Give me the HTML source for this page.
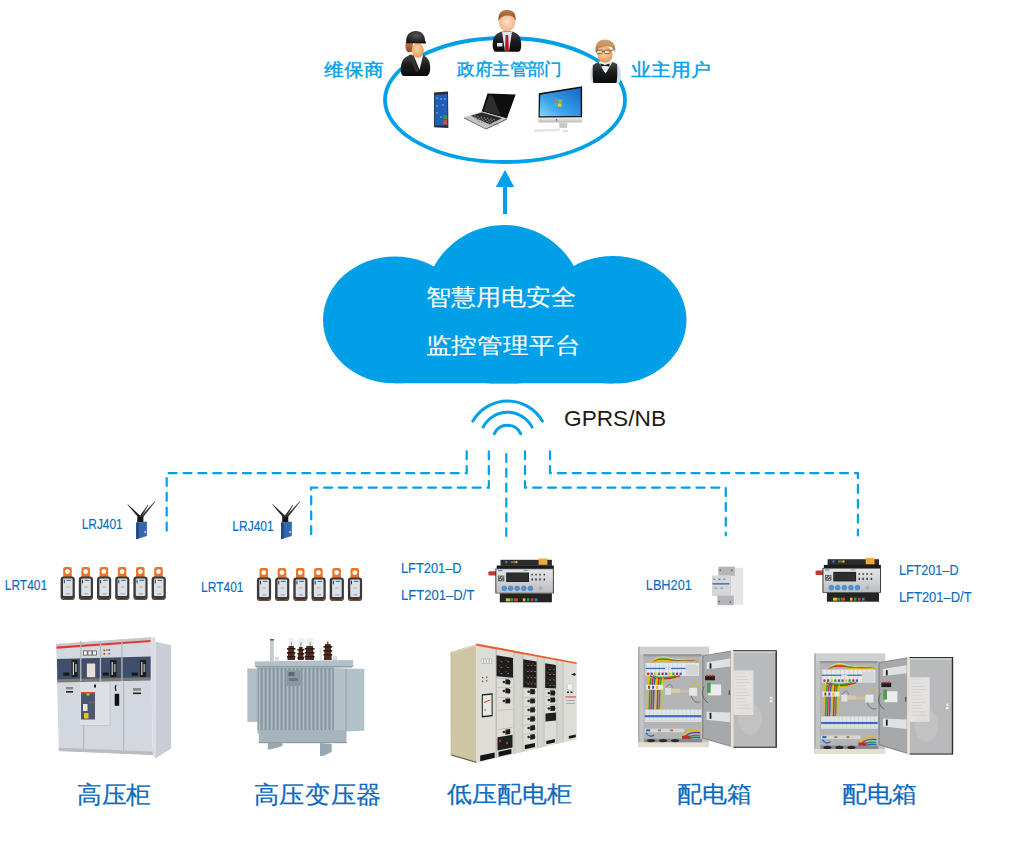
<!DOCTYPE html>
<html><head><meta charset="utf-8">
<style>
html,body{margin:0;padding:0;background:#fff;}
body{width:1024px;height:854px;overflow:hidden;}
svg{display:block;}
text{font-family:"Liberation Sans",sans-serif;}
</style></head><body>
<svg width="1024" height="854" viewBox="0 0 1024 854">
<rect width="1024" height="854" fill="#fff"/>
<ellipse cx="505" cy="100" rx="120" ry="62" fill="none" stroke="#00a0e9" stroke-width="3.8"/>
<rect x="503" y="185" width="4" height="29" fill="#00a0e9"/>
<polygon points="505,170 495.8,187 514.2,187" fill="#00a0e9"/>
<defs><clipPath id="cc"><rect x="0" y="0" width="1024" height="383.5"/></clipPath></defs>
<g fill="#00a0e9" clip-path="url(#cc)">
<ellipse cx="395" cy="320" rx="72" ry="63.5"/>
<ellipse cx="613" cy="320" rx="73.5" ry="64"/>
<circle cx="504" cy="305" r="80"/>
<rect x="395" y="290" width="218" height="93.5"/>
</g>
<text transform="translate(425.59,305.4) scale(1.0074,0.9240)" font-size="25" fill="#fff" stroke="#fff" stroke-width="0.15">智慧用电安全</text>
<text transform="translate(425.59,352.53) scale(1.0143,0.8680)" font-size="25" fill="#fff" stroke="#fff" stroke-width="0.15">监控管理平台</text>
<g fill="none" stroke="#00a0e9" stroke-width="3" stroke-linecap="round">
<path d="M472.9,421.1 A40,40 0 0 1 542.3,421.1"/>
<path d="M483.2,427 A27.5,27.5 0 0 1 532,427"/>
<path d="M494.4,433.6 A14.5,14.5 0 0 1 520.6,433.6"/>
</g>
<text x="564" y="425.8" font-size="22" fill="#231815" textLength="102" lengthAdjust="spacingAndGlyphs">GPRS/NB</text>
<g fill="none" stroke="#00a0e9" stroke-width="2.2" stroke-dasharray="8 6.85" stroke-linecap="round">
<path d="M466.7,451.3 V473.1 H166.7 V530.6"/>
<path d="M488.8,451.3 V487.7 H311.2 V534.5"/>
<path d="M506.3,447.5 V535.9" stroke-dashoffset="8.35"/>
<path d="M525,451.3 V487.7 H725.8 V535.5"/>
<path d="M550,451.3 V473.1 H857.9 V535.5"/>
</g>
<defs>
<radialGradient id="skin" cx="0.45" cy="0.4" r="0.7"><stop offset="0" stop-color="#fbd3a4"/><stop offset="0.7" stop-color="#eea664"/><stop offset="1" stop-color="#c97a3a"/></radialGradient>
<radialGradient id="skin2" cx="0.5" cy="0.45" r="0.7"><stop offset="0" stop-color="#fde0c8"/><stop offset="0.7" stop-color="#f3b98e"/><stop offset="1" stop-color="#d9895a"/></radialGradient>
<linearGradient id="suit" x1="0" y1="0" x2="0" y2="1"><stop offset="0" stop-color="#4a4a4a"/><stop offset="0.5" stop-color="#1c1c1c"/><stop offset="1" stop-color="#0a0a0a"/></linearGradient>
<radialGradient id="helmet" cx="0.5" cy="0.35" r="0.7"><stop offset="0" stop-color="#555"/><stop offset="1" stop-color="#111"/></radialGradient>
<linearGradient id="hair1" x1="0" y1="0" x2="0" y2="1"><stop offset="0" stop-color="#c07a45"/><stop offset="1" stop-color="#8a4a22"/></linearGradient>
<linearGradient id="hair3" x1="0" y1="0" x2="0" y2="1"><stop offset="0" stop-color="#d7a677"/><stop offset="1" stop-color="#b07a48"/></linearGradient>
<linearGradient id="scr" x1="0" y1="1" x2="1" y2="0"><stop offset="0" stop-color="#8fd4f8"/><stop offset="0.35" stop-color="#3aa6ec"/><stop offset="1" stop-color="#1565c8"/></linearGradient>
<linearGradient id="silver" x1="0" y1="0" x2="0" y2="1"><stop offset="0" stop-color="#f2f2f2"/><stop offset="1" stop-color="#b9b9b9"/></linearGradient>
</defs>
<g>
<path d="M403,76 C400,74 400.5,66 402,62 C403.5,58 407,56 410,55 L416,54 L423,55 C427,57 429.5,60 430,65 C430.5,70 430,74 427,76 Z" fill="url(#suit)"/>
<path d="M409.5,54.5 L413,53.5 L419.5,70 L423,55.5 L420.5,53.5 L416,56 Z" fill="#f2f4f6"/>
<path d="M409,55 L411.5,54.5 L418.5,71 L416,72 Z" fill="#333"/>
<path d="M405.8,42 C405,47 405.5,51 408.5,52.5 L412.5,51.5 L413,42 Z" fill="url(#hair1)"/>
<ellipse cx="417.8" cy="50.3" rx="6" ry="7.4" fill="url(#skin)"/>
<path d="M406.3,42.2 C405.5,35 410,31 415.8,31 C421.5,31 425.2,35 425,40.8 L426.2,42.6 L425.8,43.4 L406.3,43.2 Z" fill="url(#helmet)"/>
</g>
<g>
<path d="M495,51.8 C492,50 492.3,43 493.5,39 C495,34.5 498,32.5 502,31.5 L507,30.5 L512,31.5 C516,32.5 519.5,34.5 520.5,39 C521.5,43 521.8,50 519,51.8 Z" fill="url(#suit)"/>
<path d="M502,31.5 L512,31.5 L509,51.5 L505,51.5 Z" fill="#d6e8f5"/>
<path d="M505.6,35 L508.2,35 L509,51.5 L505,51.5 Z" fill="#c0141b"/>
<rect x="497" y="43" width="5.5" height="3.5" fill="#dfe6f0"/>
<ellipse cx="507" cy="22.5" rx="8.2" ry="8.8" fill="url(#skin2)"/>
<path d="M498.5,21 C497.5,13 502,10 507,10 C513,10 516.5,13 515.5,21 C514,16 511,15 506,15.5 C502,16 500,18 498.5,21 Z" fill="url(#hair1)"/>
</g>
<g>
<path d="M592,83 C589.5,80 590,72 591.5,68 C593,64 596,62.5 599,61.5 L605,60.5 L612,61.5 C616,62.5 619,64.5 620,68 C621.5,72 621.5,80 619,83 Z" fill="#cde0f3"/>
<path d="M593.5,83 C592.5,78 592.5,70 593,65 L598.5,62 L605.5,73.5 L612.5,62 L617,64 C617.5,70 617.5,78 616.5,83 Z" fill="url(#suit)"/>
<path d="M599,62.5 L605,60.8 L611.5,62.5 L605.5,73.5 Z" fill="#e4eef8"/>
<path d="M600.5,63.5 L605,65 L609.5,63.5 L609.5,66.5 L605,65.8 L600.5,66.5 Z" fill="#151515"/>
<ellipse cx="605" cy="54.5" rx="7.6" ry="8.2" fill="url(#skin)"/>
<path d="M595.5,52 C594.5,44 598.5,39.5 605,39.5 C611.5,39.5 616,43.5 615.3,51.5 L613.5,50 C612.5,47 610,46 606,46.5 C601,47 598.5,48 597,52 Z" fill="url(#hair3)"/>
<g fill="#fff5e8" fill-opacity="0.45" stroke="#5e4a36" stroke-width="0.8"><rect x="596.8" y="50.2" width="5.6" height="3.4" rx="1"/><rect x="604.3" y="50.2" width="5.6" height="3.4" rx="1"/></g>
<path d="M602.4,51.3 H604.3 M609.9,50.8 L613.5,49.8" stroke="#5e4a36" stroke-width="0.8" fill="none"/>
</g>
<polygon points="434,92.6 448,91.4 448.4,128 434,127.2" fill="#2b2b2b"/>
<polygon points="434.6,94.8 447.4,94 447.6,125.6 434.8,125.4" fill="#1f5fb5"/>
<rect x="443.3" y="115" width="3.8" height="4.2" fill="#2a9a50"/><rect x="443.3" y="120.2" width="3.8" height="4.2" fill="#d84848"/>
<g fill="#6aa8e8" opacity="0.6"><rect x="436" y="97" width="2" height="2"/><rect x="440" y="98" width="2" height="2"/><rect x="444" y="98" width="2" height="2"/><rect x="436" y="105" width="2" height="2"/><rect x="442" y="104" width="2" height="2"/><rect x="436" y="112" width="2" height="2"/><rect x="440" y="116" width="2" height="2"/></g>
<polygon points="487.5,93.6 515.7,94.4 506.9,118.5 481.7,111.4" fill="#0e0e0e"/>
<polygon points="489,95.5 492.5,95.6 500.5,115.5 483.5,111" fill="#2e2e2e"/>
<polygon points="464.1,117.3 481.7,111.4 506.9,118.5 485.8,128.4" fill="#c4c4c4"/>
<polygon points="471,115.8 482,112.5 502,118.3 489.5,124.5" fill="#2a2a2a"/>
<g fill="#8a8a8a"><rect x="474" y="115.5" width="1.6" height="1" /><rect x="475.3" y="117.3" width="1.6" height="1" /><rect x="476.6" y="119.1" width="1.6" height="1" /><rect x="477.9" y="120.9" width="1.6" height="1" /><rect x="477.2" y="116.1" width="1.6" height="1" /><rect x="478.5" y="117.9" width="1.6" height="1" /><rect x="479.8" y="119.7" width="1.6" height="1" /><rect x="481.1" y="121.5" width="1.6" height="1" /><rect x="480.4" y="116.7" width="1.6" height="1" /><rect x="481.7" y="118.5" width="1.6" height="1" /><rect x="483" y="120.3" width="1.6" height="1" /><rect x="484.3" y="122.1" width="1.6" height="1" /><rect x="483.6" y="117.3" width="1.6" height="1" /><rect x="484.9" y="119.1" width="1.6" height="1" /><rect x="486.2" y="120.9" width="1.6" height="1" /><rect x="487.5" y="122.7" width="1.6" height="1" /><rect x="486.8" y="117.9" width="1.6" height="1" /><rect x="488.1" y="119.7" width="1.6" height="1" /><rect x="489.4" y="121.5" width="1.6" height="1" /><rect x="490.7" y="123.3" width="1.6" height="1" /><rect x="490" y="118.5" width="1.6" height="1" /><rect x="491.3" y="120.3" width="1.6" height="1" /><rect x="492.6" y="122.1" width="1.6" height="1" /><rect x="493.9" y="123.9" width="1.6" height="1" /><rect x="493.2" y="119.1" width="1.6" height="1" /><rect x="494.5" y="120.9" width="1.6" height="1" /><rect x="495.8" y="122.7" width="1.6" height="1" /><rect x="497.1" y="124.5" width="1.6" height="1" /></g>
<polygon points="464.1,117.3 485.8,128.4 486,129.6 464.2,118.4" fill="#6a6a6a"/>
<polygon points="485.8,128.4 506.9,118.5 507,119.5 486,129.6" fill="#555"/>
<polygon points="538.8,93.2 582.1,86.2 582.1,117.5 538.5,117.8" fill="#111"/>
<polygon points="540.3,94.7 580.7,87.9 580.7,116 539.7,116.3" fill="url(#scr)"/>
<g><rect x="554.5" y="99" width="3.5" height="3.2" fill="#f06a30"/><rect x="558.5" y="99.5" width="3.5" height="3.2" fill="#7cc53a"/><rect x="554" y="103" width="3.5" height="3.2" fill="#3ab0f0"/><rect x="558" y="103.5" width="3.5" height="3.2" fill="#f5c82a"/></g>
<polygon points="538.2,117.8 582.1,117.5 582.1,122.5 538.2,122.5" fill="url(#silver)"/>
<circle cx="556.5" cy="120" r="0.8" fill="#444"/>
<polygon points="559,122.5 567.5,122.5 567,128 559.5,128" fill="#c9c9c9"/>
<polygon points="534.5,129.5 559.5,128.5 560,131 534.2,132" fill="#e4e4e4"/>
<ellipse cx="565.5" cy="131" rx="3" ry="1.2" fill="#e0e0e0"/>
<text transform="translate(324,75.67) scale(0.9915,0.9100)" font-size="20" fill="#00a0e9" stroke="#00a0e9" stroke-width="0.45">维保商</text>
<text transform="translate(457.3,74.5) scale(0.8763,0.8350)" font-size="20" fill="#00a0e9" stroke="#00a0e9" stroke-width="0.45">政府主管部门</text>
<text transform="translate(631.4,75.8) scale(0.9911,0.9000)" font-size="20" fill="#00a0e9" stroke="#00a0e9" stroke-width="0.45">业主用户</text>
<g font-size="14.5" fill="#0a6cc0" stroke="#0a6cc0" stroke-width="0.12">
<text x="81.7" y="528.9" textLength="41" lengthAdjust="spacingAndGlyphs">LRJ401</text>
<text x="232.3" y="531.4" textLength="41.4" lengthAdjust="spacingAndGlyphs">LRJ401</text>
<text x="4.8" y="590.2" textLength="42.3" lengthAdjust="spacingAndGlyphs">LRT401</text>
<text x="201" y="591.7" textLength="42.5" lengthAdjust="spacingAndGlyphs">LRT401</text>
<text x="401" y="572.9" textLength="60.5" lengthAdjust="spacingAndGlyphs">LFT201–D</text>
<text x="401" y="600.3" textLength="73.4" lengthAdjust="spacingAndGlyphs">LFT201–D/T</text>
<text x="645.8" y="590.2" textLength="46" lengthAdjust="spacingAndGlyphs">LBH201</text>
<text x="898.9" y="575.2" textLength="59.6" lengthAdjust="spacingAndGlyphs">LFT201–D</text>
<text x="898.9" y="602.3" textLength="72.7" lengthAdjust="spacingAndGlyphs">LFT201–D/T</text>
</g>
<g transform="translate(136.2,521.7)">
<polygon points="-8.8,-17.1 -8.4,-17.5 4.8,-5.3 2.6,-3.7" fill="#1e1e1e"/>
<polygon points="11.7,-16.9 12.1,-16.5 5.2,-4.6 3.6,-5.9" fill="#2a2a2a"/>
<polygon points="18.6,-20.5 19.2,-20.1 6.3,-3.8 4.6,-5.1" fill="#333"/>
<rect x="1.1" y="-5.1" width="6.1" height="5.6" fill="#141414"/>
<polygon points="0,0.8 10.7,-0.1 10.7,14.3 0,17.5" fill="#3466ad"/>
<polygon points="0,0.8 2.5,0.6 2.5,16.8 0,17.5" fill="#22467e"/>
<circle cx="9" cy="10.2" r="0.9" fill="#e8eef5"/>
</g>
<g transform="translate(281.1,521.7)">
<polygon points="-8.8,-17.1 -8.4,-17.5 4.8,-5.3 2.6,-3.7" fill="#1e1e1e"/>
<polygon points="11.7,-16.9 12.1,-16.5 5.2,-4.6 3.6,-5.9" fill="#2a2a2a"/>
<polygon points="18.6,-20.5 19.2,-20.1 6.3,-3.8 4.6,-5.1" fill="#333"/>
<rect x="1.1" y="-5.1" width="6.1" height="5.6" fill="#141414"/>
<polygon points="0,0.8 10.7,-0.1 10.7,14.3 0,17.5" fill="#3466ad"/>
<polygon points="0,0.8 2.5,0.6 2.5,16.8 0,17.5" fill="#22467e"/>
<circle cx="9" cy="10.2" r="0.9" fill="#e8eef5"/>
</g>
<g transform="translate(60.6,567)">
<rect x="2.6" y="0" width="8.6" height="12" rx="2" fill="#ec7426"/>
<circle cx="6.9" cy="4.6" r="2.4" fill="#fff"/>
<rect x="0" y="9.4" width="14.2" height="23.6" rx="3" fill="#3a3a3a"/>
<path d="M0.6,30.5 Q7.1,34 13.6,30.5 L13.6,31.5 Q7.1,34.6 0.6,31.5 Z" fill="#a85a2a" opacity="0.8"/>
<rect x="2.4" y="11.6" width="9.6" height="17.4" rx="1" fill="#dde1e6"/>
<rect x="6" y="12.8" width="4.5" height="1.2" fill="#4a6fb8"/>
<rect x="3.2" y="12.8" width="0.9" height="3.5" fill="#222"/>
<rect x="5.5" y="19.5" width="3.5" height="0.9" fill="#98a8c8"/>
<rect x="5.5" y="26.5" width="4" height="0.8" fill="#6a88c0"/>
</g>
<g transform="translate(78.8,567)">
<rect x="2.6" y="0" width="8.6" height="12" rx="2" fill="#ec7426"/>
<circle cx="6.9" cy="4.6" r="2.4" fill="#fff"/>
<rect x="0" y="9.4" width="14.2" height="23.6" rx="3" fill="#3a3a3a"/>
<path d="M0.6,30.5 Q7.1,34 13.6,30.5 L13.6,31.5 Q7.1,34.6 0.6,31.5 Z" fill="#a85a2a" opacity="0.8"/>
<rect x="2.4" y="11.6" width="9.6" height="17.4" rx="1" fill="#dde1e6"/>
<rect x="6" y="12.8" width="4.5" height="1.2" fill="#4a6fb8"/>
<rect x="3.2" y="12.8" width="0.9" height="3.5" fill="#222"/>
<rect x="5.5" y="19.5" width="3.5" height="0.9" fill="#98a8c8"/>
<rect x="5.5" y="26.5" width="4" height="0.8" fill="#6a88c0"/>
</g>
<g transform="translate(97,567)">
<rect x="2.6" y="0" width="8.6" height="12" rx="2" fill="#ec7426"/>
<circle cx="6.9" cy="4.6" r="2.4" fill="#fff"/>
<rect x="0" y="9.4" width="14.2" height="23.6" rx="3" fill="#3a3a3a"/>
<path d="M0.6,30.5 Q7.1,34 13.6,30.5 L13.6,31.5 Q7.1,34.6 0.6,31.5 Z" fill="#a85a2a" opacity="0.8"/>
<rect x="2.4" y="11.6" width="9.6" height="17.4" rx="1" fill="#dde1e6"/>
<rect x="6" y="12.8" width="4.5" height="1.2" fill="#4a6fb8"/>
<rect x="3.2" y="12.8" width="0.9" height="3.5" fill="#222"/>
<rect x="5.5" y="19.5" width="3.5" height="0.9" fill="#98a8c8"/>
<rect x="5.5" y="26.5" width="4" height="0.8" fill="#6a88c0"/>
</g>
<g transform="translate(115.2,567)">
<rect x="2.6" y="0" width="8.6" height="12" rx="2" fill="#ec7426"/>
<circle cx="6.9" cy="4.6" r="2.4" fill="#fff"/>
<rect x="0" y="9.4" width="14.2" height="23.6" rx="3" fill="#3a3a3a"/>
<path d="M0.6,30.5 Q7.1,34 13.6,30.5 L13.6,31.5 Q7.1,34.6 0.6,31.5 Z" fill="#a85a2a" opacity="0.8"/>
<rect x="2.4" y="11.6" width="9.6" height="17.4" rx="1" fill="#dde1e6"/>
<rect x="6" y="12.8" width="4.5" height="1.2" fill="#4a6fb8"/>
<rect x="3.2" y="12.8" width="0.9" height="3.5" fill="#222"/>
<rect x="5.5" y="19.5" width="3.5" height="0.9" fill="#98a8c8"/>
<rect x="5.5" y="26.5" width="4" height="0.8" fill="#6a88c0"/>
</g>
<g transform="translate(133.4,567)">
<rect x="2.6" y="0" width="8.6" height="12" rx="2" fill="#ec7426"/>
<circle cx="6.9" cy="4.6" r="2.4" fill="#fff"/>
<rect x="0" y="9.4" width="14.2" height="23.6" rx="3" fill="#3a3a3a"/>
<path d="M0.6,30.5 Q7.1,34 13.6,30.5 L13.6,31.5 Q7.1,34.6 0.6,31.5 Z" fill="#a85a2a" opacity="0.8"/>
<rect x="2.4" y="11.6" width="9.6" height="17.4" rx="1" fill="#dde1e6"/>
<rect x="6" y="12.8" width="4.5" height="1.2" fill="#4a6fb8"/>
<rect x="3.2" y="12.8" width="0.9" height="3.5" fill="#222"/>
<rect x="5.5" y="19.5" width="3.5" height="0.9" fill="#98a8c8"/>
<rect x="5.5" y="26.5" width="4" height="0.8" fill="#6a88c0"/>
</g>
<g transform="translate(151.6,567)">
<rect x="2.6" y="0" width="8.6" height="12" rx="2" fill="#ec7426"/>
<circle cx="6.9" cy="4.6" r="2.4" fill="#fff"/>
<rect x="0" y="9.4" width="14.2" height="23.6" rx="3" fill="#3a3a3a"/>
<path d="M0.6,30.5 Q7.1,34 13.6,30.5 L13.6,31.5 Q7.1,34.6 0.6,31.5 Z" fill="#a85a2a" opacity="0.8"/>
<rect x="2.4" y="11.6" width="9.6" height="17.4" rx="1" fill="#dde1e6"/>
<rect x="6" y="12.8" width="4.5" height="1.2" fill="#4a6fb8"/>
<rect x="3.2" y="12.8" width="0.9" height="3.5" fill="#222"/>
<rect x="5.5" y="19.5" width="3.5" height="0.9" fill="#98a8c8"/>
<rect x="5.5" y="26.5" width="4" height="0.8" fill="#6a88c0"/>
</g>
<g transform="translate(256.9,568)">
<rect x="2.6" y="0" width="8.6" height="12" rx="2" fill="#ec7426"/>
<circle cx="6.9" cy="4.6" r="2.4" fill="#fff"/>
<rect x="0" y="9.4" width="14.2" height="23.6" rx="3" fill="#3a3a3a"/>
<path d="M0.6,30.5 Q7.1,34 13.6,30.5 L13.6,31.5 Q7.1,34.6 0.6,31.5 Z" fill="#a85a2a" opacity="0.8"/>
<rect x="2.4" y="11.6" width="9.6" height="17.4" rx="1" fill="#dde1e6"/>
<rect x="6" y="12.8" width="4.5" height="1.2" fill="#4a6fb8"/>
<rect x="3.2" y="12.8" width="0.9" height="3.5" fill="#222"/>
<rect x="5.5" y="19.5" width="3.5" height="0.9" fill="#98a8c8"/>
<rect x="5.5" y="26.5" width="4" height="0.8" fill="#6a88c0"/>
</g>
<g transform="translate(275.1,568)">
<rect x="2.6" y="0" width="8.6" height="12" rx="2" fill="#ec7426"/>
<circle cx="6.9" cy="4.6" r="2.4" fill="#fff"/>
<rect x="0" y="9.4" width="14.2" height="23.6" rx="3" fill="#3a3a3a"/>
<path d="M0.6,30.5 Q7.1,34 13.6,30.5 L13.6,31.5 Q7.1,34.6 0.6,31.5 Z" fill="#a85a2a" opacity="0.8"/>
<rect x="2.4" y="11.6" width="9.6" height="17.4" rx="1" fill="#dde1e6"/>
<rect x="6" y="12.8" width="4.5" height="1.2" fill="#4a6fb8"/>
<rect x="3.2" y="12.8" width="0.9" height="3.5" fill="#222"/>
<rect x="5.5" y="19.5" width="3.5" height="0.9" fill="#98a8c8"/>
<rect x="5.5" y="26.5" width="4" height="0.8" fill="#6a88c0"/>
</g>
<g transform="translate(293.3,568)">
<rect x="2.6" y="0" width="8.6" height="12" rx="2" fill="#ec7426"/>
<circle cx="6.9" cy="4.6" r="2.4" fill="#fff"/>
<rect x="0" y="9.4" width="14.2" height="23.6" rx="3" fill="#3a3a3a"/>
<path d="M0.6,30.5 Q7.1,34 13.6,30.5 L13.6,31.5 Q7.1,34.6 0.6,31.5 Z" fill="#a85a2a" opacity="0.8"/>
<rect x="2.4" y="11.6" width="9.6" height="17.4" rx="1" fill="#dde1e6"/>
<rect x="6" y="12.8" width="4.5" height="1.2" fill="#4a6fb8"/>
<rect x="3.2" y="12.8" width="0.9" height="3.5" fill="#222"/>
<rect x="5.5" y="19.5" width="3.5" height="0.9" fill="#98a8c8"/>
<rect x="5.5" y="26.5" width="4" height="0.8" fill="#6a88c0"/>
</g>
<g transform="translate(311.5,568)">
<rect x="2.6" y="0" width="8.6" height="12" rx="2" fill="#ec7426"/>
<circle cx="6.9" cy="4.6" r="2.4" fill="#fff"/>
<rect x="0" y="9.4" width="14.2" height="23.6" rx="3" fill="#3a3a3a"/>
<path d="M0.6,30.5 Q7.1,34 13.6,30.5 L13.6,31.5 Q7.1,34.6 0.6,31.5 Z" fill="#a85a2a" opacity="0.8"/>
<rect x="2.4" y="11.6" width="9.6" height="17.4" rx="1" fill="#dde1e6"/>
<rect x="6" y="12.8" width="4.5" height="1.2" fill="#4a6fb8"/>
<rect x="3.2" y="12.8" width="0.9" height="3.5" fill="#222"/>
<rect x="5.5" y="19.5" width="3.5" height="0.9" fill="#98a8c8"/>
<rect x="5.5" y="26.5" width="4" height="0.8" fill="#6a88c0"/>
</g>
<g transform="translate(329.7,568)">
<rect x="2.6" y="0" width="8.6" height="12" rx="2" fill="#ec7426"/>
<circle cx="6.9" cy="4.6" r="2.4" fill="#fff"/>
<rect x="0" y="9.4" width="14.2" height="23.6" rx="3" fill="#3a3a3a"/>
<path d="M0.6,30.5 Q7.1,34 13.6,30.5 L13.6,31.5 Q7.1,34.6 0.6,31.5 Z" fill="#a85a2a" opacity="0.8"/>
<rect x="2.4" y="11.6" width="9.6" height="17.4" rx="1" fill="#dde1e6"/>
<rect x="6" y="12.8" width="4.5" height="1.2" fill="#4a6fb8"/>
<rect x="3.2" y="12.8" width="0.9" height="3.5" fill="#222"/>
<rect x="5.5" y="19.5" width="3.5" height="0.9" fill="#98a8c8"/>
<rect x="5.5" y="26.5" width="4" height="0.8" fill="#6a88c0"/>
</g>
<g transform="translate(347.9,568)">
<rect x="2.6" y="0" width="8.6" height="12" rx="2" fill="#ec7426"/>
<circle cx="6.9" cy="4.6" r="2.4" fill="#fff"/>
<rect x="0" y="9.4" width="14.2" height="23.6" rx="3" fill="#3a3a3a"/>
<path d="M0.6,30.5 Q7.1,34 13.6,30.5 L13.6,31.5 Q7.1,34.6 0.6,31.5 Z" fill="#a85a2a" opacity="0.8"/>
<rect x="2.4" y="11.6" width="9.6" height="17.4" rx="1" fill="#dde1e6"/>
<rect x="6" y="12.8" width="4.5" height="1.2" fill="#4a6fb8"/>
<rect x="3.2" y="12.8" width="0.9" height="3.5" fill="#222"/>
<rect x="5.5" y="19.5" width="3.5" height="0.9" fill="#98a8c8"/>
<rect x="5.5" y="26.5" width="4" height="0.8" fill="#6a88c0"/>
</g>
<g transform="translate(495.4,559.8)">
<path d="M-7,12.5 Q-7,11.4 -5.5,11.4 L0.6,11.4 L0.6,15.8 L-5.5,15.8 Q-7,15.8 -7,14.5 Z" fill="#c23a30"/>
<rect x="5.1" y="0" width="51.4" height="6" fill="#2c2c2c"/>
<rect x="1.3" y="5.7" width="57.1" height="3.3" fill="#1c1c1c"/>
<rect x="43.2" y="-1.3" width="8.8" height="6.3" fill="#f0a838"/>
<rect x="10" y="1.2" width="2" height="2.2" fill="#3a7fd0"/><rect x="15.5" y="1.2" width="2" height="2.2" fill="#e04030"/><rect x="17.8" y="1.2" width="2" height="2.2" fill="#3aa040"/><rect x="20" y="1.2" width="2" height="2.2" fill="#f0c020"/>
<defs><linearGradient id="lftp" x1="0" y1="0" x2="0" y2="1"><stop offset="0" stop-color="#e4e6e8"/><stop offset="1" stop-color="#bcbfc2"/></linearGradient></defs>
<rect x="0" y="8.8" width="58.4" height="24.8" fill="#2a2a2a"/>
<rect x="0.9" y="9.4" width="56.6" height="23.6" fill="url(#lftp)"/>
<rect x="10.8" y="12.7" width="22.8" height="9.5" fill="#1c1c1c"/>
<rect x="11.5" y="13.4" width="21.4" height="8.1" fill="#2e2e2e"/>
<rect x="2.6" y="15.8" width="6.3" height="5.7" fill="#5a5a5a"/>
<g fill="#ccc"><rect x="3.4" y="16.6" width="1.2" height="1.2"/><rect x="5.6" y="17.4" width="1.2" height="1.2"/><rect x="7" y="16.4" width="1" height="1.5"/><rect x="4" y="19.2" width="1.5" height="1"/><rect x="6.4" y="19.8" width="1" height="1"/></g>
<rect x="2.5" y="10.3" width="4.5" height="1" fill="#4a7ac0"/><rect x="28" y="10.3" width="5" height="0.8" fill="#6a8ac8"/>
<g fill="#3a3a3a"><rect x="36.05" y="14" width="1.5" height="1.6"/><rect x="36.05" y="18.6" width="1.5" height="2.2"/><rect x="39.85" y="14" width="1.5" height="1.6"/><rect x="39.85" y="18.6" width="1.5" height="2.2"/><rect x="43.85" y="14" width="1.5" height="1.6"/><rect x="43.85" y="18.6" width="1.5" height="2.2"/><rect x="48.15" y="14" width="1.5" height="1.6"/><rect x="48.15" y="18.6" width="1.5" height="2.2"/></g>
<g fill="#4b97dd" stroke="#2d67a8" stroke-width="0.5"><circle cx="8.9" cy="28.5" r="2.4"/><circle cx="15.2" cy="28.5" r="2.4"/><circle cx="21.8" cy="28.5" r="2.4"/><circle cx="28.4" cy="28.5" r="2.4"/><circle cx="35" cy="28.5" r="2.4"/></g>
<path d="M45.1,26.8 l1.5,1.7 l-1.5,1.7 l-1.5,-1.7 Z" fill="none" stroke="#777" stroke-width="0.6"/>
<rect x="4.4" y="33.6" width="52.1" height="8.9" fill="#242424"/>
<g><rect x="10.5" y="38.5" width="4" height="3" fill="#e8c020"/><rect x="14.8" y="38.5" width="3" height="3" fill="#2aa040"/><rect x="18.5" y="38.5" width="4" height="3" fill="#d84030"/><rect x="27.5" y="38.5" width="2.5" height="3" fill="#e8c020"/><rect x="31.5" y="38.5" width="2.5" height="3" fill="#2aa040"/><rect x="35.5" y="38.5" width="2.5" height="3" fill="#d84030"/><rect x="39.5" y="38.5" width="2.5" height="3" fill="#3a7fd0"/></g>
</g>
<g transform="translate(822.5,559.2)">
<path d="M-7,12.5 Q-7,11.4 -5.5,11.4 L0.6,11.4 L0.6,15.8 L-5.5,15.8 Q-7,15.8 -7,14.5 Z" fill="#c23a30"/>
<rect x="5.1" y="0" width="51.4" height="6" fill="#2c2c2c"/>
<rect x="1.3" y="5.7" width="57.1" height="3.3" fill="#1c1c1c"/>
<rect x="43.2" y="-1.3" width="8.8" height="6.3" fill="#f0a838"/>
<rect x="10" y="1.2" width="2" height="2.2" fill="#3a7fd0"/><rect x="15.5" y="1.2" width="2" height="2.2" fill="#e04030"/><rect x="17.8" y="1.2" width="2" height="2.2" fill="#3aa040"/><rect x="20" y="1.2" width="2" height="2.2" fill="#f0c020"/>
<defs><linearGradient id="lftp" x1="0" y1="0" x2="0" y2="1"><stop offset="0" stop-color="#e4e6e8"/><stop offset="1" stop-color="#bcbfc2"/></linearGradient></defs>
<rect x="0" y="8.8" width="58.4" height="24.8" fill="#2a2a2a"/>
<rect x="0.9" y="9.4" width="56.6" height="23.6" fill="url(#lftp)"/>
<rect x="10.8" y="12.7" width="22.8" height="9.5" fill="#1c1c1c"/>
<rect x="11.5" y="13.4" width="21.4" height="8.1" fill="#2e2e2e"/>
<rect x="2.6" y="15.8" width="6.3" height="5.7" fill="#5a5a5a"/>
<g fill="#ccc"><rect x="3.4" y="16.6" width="1.2" height="1.2"/><rect x="5.6" y="17.4" width="1.2" height="1.2"/><rect x="7" y="16.4" width="1" height="1.5"/><rect x="4" y="19.2" width="1.5" height="1"/><rect x="6.4" y="19.8" width="1" height="1"/></g>
<rect x="2.5" y="10.3" width="4.5" height="1" fill="#4a7ac0"/><rect x="28" y="10.3" width="5" height="0.8" fill="#6a8ac8"/>
<g fill="#3a3a3a"><rect x="36.05" y="14" width="1.5" height="1.6"/><rect x="36.05" y="18.6" width="1.5" height="2.2"/><rect x="39.85" y="14" width="1.5" height="1.6"/><rect x="39.85" y="18.6" width="1.5" height="2.2"/><rect x="43.85" y="14" width="1.5" height="1.6"/><rect x="43.85" y="18.6" width="1.5" height="2.2"/><rect x="48.15" y="14" width="1.5" height="1.6"/><rect x="48.15" y="18.6" width="1.5" height="2.2"/></g>
<g fill="#4b97dd" stroke="#2d67a8" stroke-width="0.5"><circle cx="8.9" cy="28.5" r="2.4"/><circle cx="15.2" cy="28.5" r="2.4"/><circle cx="21.8" cy="28.5" r="2.4"/><circle cx="28.4" cy="28.5" r="2.4"/><circle cx="35" cy="28.5" r="2.4"/></g>
<path d="M45.1,26.8 l1.5,1.7 l-1.5,1.7 l-1.5,-1.7 Z" fill="none" stroke="#777" stroke-width="0.6"/>
<rect x="4.4" y="33.6" width="52.1" height="8.9" fill="#242424"/>
<g><rect x="10.5" y="38.5" width="4" height="3" fill="#e8c020"/><rect x="14.8" y="38.5" width="3" height="3" fill="#2aa040"/><rect x="18.5" y="38.5" width="4" height="3" fill="#d84030"/><rect x="27.5" y="38.5" width="2.5" height="3" fill="#e8c020"/><rect x="31.5" y="38.5" width="2.5" height="3" fill="#2aa040"/><rect x="35.5" y="38.5" width="2.5" height="3" fill="#d84030"/><rect x="39.5" y="38.5" width="2.5" height="3" fill="#3a7fd0"/></g>
</g>
<g transform="translate(718.3,566.7)">
<rect x="11" y="1" width="14" height="37" fill="#e4e6e8"/>
<rect x="0" y="0" width="16.6" height="9" fill="#b3b5b8"/>
<rect x="-6.3" y="8.8" width="17.6" height="20.5" fill="#d4d6d9"/>
<rect x="-1" y="29" width="16.5" height="9.5" fill="#b3b5b8"/>
<rect x="11.3" y="8.8" width="1.2" height="20.5" fill="#c8cacd"/>
<rect x="-5.8" y="16.5" width="16.8" height="1.3" fill="#2a66b0"/>
<g fill="#6e6a50"><circle cx="2" cy="3.5" r="0.9"/><circle cx="13.5" cy="3.5" r="0.9"/><circle cx="1" cy="35" r="0.9"/><circle cx="12" cy="35.5" r="0.9"/></g>
<g fill="#777"><rect x="-5" y="12" width="2" height="1"/><rect x="0" y="12" width="2" height="1.4"/><rect x="5" y="12" width="2" height="1"/><rect x="-4" y="21" width="3" height="0.8"/><rect x="2" y="21" width="3" height="0.8"/></g>
</g>
<g>
<polygon points="155.4,641.8 171.2,645.2 171.2,748.4 155.4,758.6" fill="#c9cdd5" />
<polygon points="150.8,637.3 155.4,637.6 155.4,758.6 152.8,755" fill="#dadde3" />
<polygon points="56.1,643.9 150.8,637.3 152.8,755 58.8,751" fill="#d3d7de" />
<polygon points="56.1,643.9 150.8,637.3 150.8,640 56.1,646.4" fill="#c6cacf" />
<polygon points="56.5,646.5 150.5,640.1 150.5,642.1 56.5,648.8" fill="#e03a34" />
<polygon points="57,659 150.6,656.6 150.6,678 57.3,680.4" fill="#3f4f69" />
<polygon points="57.3,679.2 150.6,677.2 150.6,680.4 57.3,682.4" fill="#7c7a74" />
<rect x="80.1" y="641" width="1.3" height="40" fill="#b6bac0" />
<rect x="99.8" y="641" width="1.3" height="40" fill="#b6bac0" />
<rect x="121.3" y="641" width="1.3" height="40" fill="#b6bac0" />
<rect x="83.1" y="682" width="1.1" height="70" fill="#b3b7bd" />
<rect x="123.1" y="682" width="1.1" height="70" fill="#b3b7bd" />
<polygon points="58.8,747.8 152.8,751.5 152.8,755 58.8,751" fill="#b9bcc1" />
<rect x="83.3" y="650.9" width="3.9" height="4.2" fill="#f2f2f2" stroke="#444" stroke-width="0.7"/>
<rect x="88" y="650.9" width="3.9" height="4.2" fill="#f2f2f2" stroke="#444" stroke-width="0.7"/>
<rect x="92.7" y="650.9" width="3.9" height="4.2" fill="#f2f2f2" stroke="#444" stroke-width="0.7"/>
<rect x="103.5" y="649.5" width="1.6" height="1.6" fill="#2a9a40" /><rect x="106" y="649.3" width="1.6" height="1.6" fill="#e07020" /><rect x="108.5" y="649.2" width="1.6" height="1.6" fill="#c82020" />
<rect x="103.5" y="653" width="1.6" height="1.6" fill="#c82020" /><rect x="108.5" y="653" width="1.6" height="1.6" fill="#2a9a40" />
<rect x="71.6" y="660" width="6" height="17" fill="#1e1e1e" /><rect x="72.8" y="662" width="1.2" height="13" fill="#d0d0d0" /><rect x="75" y="664" width="1.8" height="8" fill="#9a9a9a" />
<rect x="110.4" y="660" width="6" height="17" fill="#1e1e1e" /><rect x="111.6" y="662" width="1.2" height="13" fill="#d0d0d0" /><rect x="113.8" y="664" width="1.8" height="8" fill="#9a9a9a" />
<rect x="140" y="660" width="6" height="17" fill="#1e1e1e" /><rect x="141.2" y="662" width="1.2" height="13" fill="#d0d0d0" /><rect x="143.4" y="664" width="1.8" height="8" fill="#9a9a9a" />
<rect x="63.3" y="672.6" width="6" height="3" fill="#151515" />
<rect x="102.8" y="672.6" width="6" height="3" fill="#151515" />
<rect x="131.7" y="672.6" width="6" height="3" fill="#151515" />
<rect x="86.9" y="663.5" width="8.3" height="13.7" fill="#e4e0d8" />
<rect x="66" y="687" width="7" height="2.4" fill="#8a8a8a" /><rect x="66" y="691" width="7" height="1.6" fill="#222" />
<rect x="133" y="688" width="8" height="2.8" fill="#8a8a8a" /><rect x="133" y="692.5" width="8" height="1.6" fill="#222" />
<rect x="80" y="682.5" width="31" height="43.5" fill="#dcdfe4" />
<rect x="109.5" y="683" width="1.6" height="43" fill="#c9ccd1" />
<rect x="80.5" y="725" width="30.5" height="1.2" fill="#c4c7cc" />
<rect x="81" y="692" width="14" height="27.5" fill="#4a586e" />
<rect x="81" y="692" width="14" height="1.5" fill="#d5483a" />
<rect x="86.5" y="693.5" width="3" height="2" fill="#f0c020" />
<rect x="83" y="704" width="4.5" height="7" fill="#e8e8e8" />
<circle cx="90" cy="702.5" r="1" fill="#30a050"/><circle cx="93" cy="702.5" r="1" fill="#e04030"/>
<rect x="84" y="713" width="4.5" height="5.5" fill="#f0c020" />
<rect x="94" y="684.5" width="2" height="3" fill="#222" />
<rect x="114.7" y="693.8" width="4.5" height="12" fill="#111" />
<path d="M116,685 q-1.5,3 0,6" stroke="#111" stroke-width="1.2" fill="none"/>
</g>
<g>
<rect x="270" y="639" width="3.8" height="22" fill="#c4ccd0" />
<rect x="270" y="639" width="3.8" height="1.5" fill="#555" />
<rect x="288.6" y="638.2" width="5.6" height="7.5" fill="#eef0f0" />
<rect x="290.8" y="642" width="1.2" height="8" fill="#9aa0a0" />
<rect x="298.2" y="638.2" width="5.6" height="7.5" fill="#eef0f0" />
<rect x="300.4" y="642" width="1.2" height="8" fill="#9aa0a0" />
<rect x="306.95" y="638.2" width="6.5" height="7.5" fill="#eef0f0" />
<rect x="309.6" y="642" width="1.2" height="8" fill="#9aa0a0" />
<rect x="319.5" y="648" width="2.6" height="12" fill="#e0e4e4" />
<path d="M287.4,660 L288.6,646 L293.8,646 L295,660 Z" fill="#4e2a22"/>
<rect x="287" y="648" width="8.4" height="1.6" fill="#2e1812" />
<rect x="287" y="652" width="8.4" height="1.6" fill="#2e1812" />
<rect x="287" y="656" width="8.4" height="1.6" fill="#2e1812" />
<path d="M297.8,660 L299,647 L302.6,647 L303.8,660 Z" fill="#4e2a22"/>
<rect x="297.4" y="649" width="6.8" height="1.6" fill="#2e1812" />
<rect x="297.4" y="653" width="6.8" height="1.6" fill="#2e1812" />
<rect x="297.4" y="657" width="6.8" height="1.6" fill="#2e1812" />
<path d="M305.1,660 L306.3,646 L312.9,646 L314.1,660 Z" fill="#4e2a22"/>
<rect x="304.7" y="648" width="9.8" height="1.6" fill="#2e1812" />
<rect x="304.7" y="652" width="9.8" height="1.6" fill="#2e1812" />
<rect x="304.7" y="656" width="9.8" height="1.6" fill="#2e1812" />
<path d="M323.8,660 L325,644 L330.6,644 L331.8,660 Z" fill="#4e2a22"/>
<rect x="323.4" y="646" width="8.8" height="1.6" fill="#2e1812" />
<rect x="323.4" y="650" width="8.8" height="1.6" fill="#2e1812" />
<rect x="323.4" y="654" width="8.8" height="1.6" fill="#2e1812" />
<rect x="327.2" y="641.5" width="1.2" height="3" fill="#4a2a20" />
<rect x="275" y="657" width="4" height="4" fill="#d8dee2" /><rect x="333" y="656" width="4" height="5" fill="#d8dee2" />
<polygon points="254.7,661.5 353,660 353.5,667 255,667" fill="#b3c0c7" />
<rect x="256" y="666" width="96" height="1.5" fill="#8e9ca4" />
<polygon points="247.3,668.5 259,668.5 259,722 247.3,721.7" fill="#b2bfc6" />
<polygon points="333.8,668 364.3,669 364.3,730.7 333.8,732" fill="#b2c0c8" />
<rect x="345.5" y="669" width="1.2" height="62" fill="#97a5ae" />
<rect x="257.6" y="667" width="76.5" height="66.5" fill="#a3b2ba" />
<rect x="257.6" y="668" width="76.2" height="62" fill="#8696a1" />
<rect x="258.8" y="668.5" width="1.8" height="61.5" fill="#aebcc4" />
<rect x="260.6" y="668.5" width="0.5" height="61.5" fill="#98a7b0" />
<rect x="262.78" y="668.5" width="1.8" height="61.5" fill="#aebcc4" />
<rect x="264.58" y="668.5" width="0.5" height="61.5" fill="#98a7b0" />
<rect x="266.76" y="668.5" width="1.8" height="61.5" fill="#aebcc4" />
<rect x="268.56" y="668.5" width="0.5" height="61.5" fill="#98a7b0" />
<rect x="270.74" y="668.5" width="1.8" height="61.5" fill="#aebcc4" />
<rect x="272.54" y="668.5" width="0.5" height="61.5" fill="#98a7b0" />
<rect x="274.72" y="668.5" width="1.8" height="61.5" fill="#aebcc4" />
<rect x="276.52" y="668.5" width="0.5" height="61.5" fill="#98a7b0" />
<rect x="278.7" y="668.5" width="1.8" height="61.5" fill="#aebcc4" />
<rect x="280.5" y="668.5" width="0.5" height="61.5" fill="#98a7b0" />
<rect x="282.68" y="668.5" width="1.8" height="61.5" fill="#aebcc4" />
<rect x="284.48" y="668.5" width="0.5" height="61.5" fill="#98a7b0" />
<rect x="286.66" y="668.5" width="1.8" height="61.5" fill="#aebcc4" />
<rect x="288.46" y="668.5" width="0.5" height="61.5" fill="#98a7b0" />
<rect x="290.64" y="668.5" width="1.8" height="61.5" fill="#aebcc4" />
<rect x="292.44" y="668.5" width="0.5" height="61.5" fill="#98a7b0" />
<rect x="294.62" y="668.5" width="1.8" height="61.5" fill="#aebcc4" />
<rect x="296.42" y="668.5" width="0.5" height="61.5" fill="#98a7b0" />
<rect x="298.6" y="668.5" width="1.8" height="61.5" fill="#aebcc4" />
<rect x="300.4" y="668.5" width="0.5" height="61.5" fill="#98a7b0" />
<rect x="302.58" y="668.5" width="1.8" height="61.5" fill="#aebcc4" />
<rect x="304.38" y="668.5" width="0.5" height="61.5" fill="#98a7b0" />
<rect x="306.56" y="668.5" width="1.8" height="61.5" fill="#aebcc4" />
<rect x="308.36" y="668.5" width="0.5" height="61.5" fill="#98a7b0" />
<rect x="310.54" y="668.5" width="1.8" height="61.5" fill="#aebcc4" />
<rect x="312.34" y="668.5" width="0.5" height="61.5" fill="#98a7b0" />
<rect x="314.52" y="668.5" width="1.8" height="61.5" fill="#aebcc4" />
<rect x="316.32" y="668.5" width="0.5" height="61.5" fill="#98a7b0" />
<rect x="318.5" y="668.5" width="1.8" height="61.5" fill="#aebcc4" />
<rect x="320.3" y="668.5" width="0.5" height="61.5" fill="#98a7b0" />
<rect x="322.48" y="668.5" width="1.8" height="61.5" fill="#aebcc4" />
<rect x="324.28" y="668.5" width="0.5" height="61.5" fill="#98a7b0" />
<rect x="326.46" y="668.5" width="1.8" height="61.5" fill="#aebcc4" />
<rect x="328.26" y="668.5" width="0.5" height="61.5" fill="#98a7b0" />
<rect x="330.44" y="668.5" width="1.8" height="61.5" fill="#aebcc4" />
<rect x="332.24" y="668.5" width="0.5" height="61.5" fill="#98a7b0" />
<rect x="287" y="670.2" width="13.4" height="15.8" fill="#8b989f" />
<rect x="288.5" y="672" width="6" height="4" fill="#5e6a72" /><rect x="289" y="678" width="9" height="3" fill="#6d7a82" />
<polygon points="258.8,730 346.5,730 346.5,743 258.8,743" fill="#a6b4bc" />
<rect x="258.8" y="742" width="88" height="1.2" fill="#8d9ba3" />
<polygon points="267.8,743 282.5,743 282.5,746 270,749.6 267.8,749.6" fill="#98a7af" />
<polygon points="320,743 331.7,744 331.7,752 323,756 320,756" fill="#98a7af" />
</g>
<g>
<polygon points="450.7,652.1 476.4,644.2 476.6,762.8 450.9,755.3" fill="#cdc5a3" />
<polygon points="450.9,754.3 476.6,761.8 476.6,763 450.9,755.5" fill="#6a6450" />
<polygon points="450.7,652.1 476.4,644.2 476.4,646 450.7,653.5" fill="#d9d3b8" />
<rect x="450.7" y="652" width="0.8" height="103" fill="#c4c0a4" />
<polygon points="476.4,643.4 576.7,662.4 576.7,739.2 476.4,762.8" fill="#dddcd6" />
<polygon points="495.6,647.04 496.9,647.28 496.9,757.98 495.6,758.28" fill="#d4d4ce" />
<polygon points="495.6,647.04 496.3,647.17 496.3,758.12 495.6,758.28" fill="#b9b9b4" />
<polygon points="496.2,647.15 496.9,647.28 496.9,757.98 496.2,758.14" fill="#b9b9b4" />
<polygon points="513.5,650.43 523.2,652.27 523.2,751.79 513.5,754.07" fill="#d4d4ce" />
<polygon points="513.5,650.43 514.2,650.56 514.2,753.91 513.5,754.07" fill="#b9b9b4" />
<polygon points="522.5,652.13 523.2,652.27 523.2,751.79 522.5,751.95" fill="#b9b9b4" />
<polygon points="537.1,654.9 544.4,656.28 544.4,746.8 537.1,748.52" fill="#d4d4ce" />
<polygon points="537.1,654.9 537.8,655.03 537.8,748.35 537.1,748.52" fill="#b9b9b4" />
<polygon points="543.7,656.15 544.4,656.28 544.4,746.8 543.7,746.96" fill="#b9b9b4" />
<polygon points="556.5,658.57 563.4,659.88 563.4,742.33 556.5,743.95" fill="#d4d4ce" />
<polygon points="556.5,658.57 557.2,658.71 557.2,743.79 556.5,743.95" fill="#b9b9b4" />
<polygon points="562.7,659.75 563.4,659.88 563.4,742.33 562.7,742.49" fill="#b9b9b4" />
<polygon points="476.4,643.4 576.7,662.4 576.7,663.94 476.4,645.79" fill="#e8602c" />
<polygon points="496.5,655.29 513,657.91 513,677.64 496.5,676.36" fill="#1e1e1e" />
<polygon points="523.2,659.33 536.6,661.47 536.6,688.06 523.2,687.54" fill="#1e1e1e" />
<polygon points="545.2,663.36 555.9,665.04 555.9,688.52 545.2,688.08" fill="#1e1e1e" />
<polygon points="498.8,659.21 500,659.39 500,660.68 498.8,660.52" fill="#8a3228" />
<polygon points="500.6,661.39 502.2,661.61 502.2,662.21 500.6,661.99" fill="#bdbdbd" />
<polygon points="498.8,665.03 500,665.17 500,666.47 498.8,666.33" fill="#8a3228" />
<polygon points="500.6,667.21 502.2,667.39 502.2,667.99 500.6,667.81" fill="#bdbdbd" />
<polygon points="498.8,670.84 500,670.96 500,672.26 498.8,672.14" fill="#8a3228" />
<polygon points="500.6,673.03 502.2,673.17 502.2,673.77 500.6,673.63" fill="#bdbdbd" />
<polygon points="505.55,659.21 506.75,659.39 506.75,660.69 505.55,660.51" fill="#8a3228" />
<polygon points="507.35,661.39 508.95,661.61 508.95,662.21 507.35,661.99" fill="#bdbdbd" />
<polygon points="505.55,665.02 506.75,665.18 506.75,666.47 505.55,666.33" fill="#8a3228" />
<polygon points="507.35,667.21 508.95,667.39 508.95,667.99 507.35,667.81" fill="#bdbdbd" />
<polygon points="505.55,670.84 506.75,670.96 506.75,672.26 505.55,672.14" fill="#8a3228" />
<polygon points="507.35,673.02 508.95,673.18 508.95,673.77 507.35,673.63" fill="#bdbdbd" />
<polygon points="525.5,663.01 526.7,663.19 526.7,664.48 525.5,664.32" fill="#8a3228" />
<polygon points="527.3,665.19 528.9,665.41 528.9,666.01 527.3,665.79" fill="#bdbdbd" />
<polygon points="525.5,669.13 526.7,669.27 526.7,670.57 525.5,670.43" fill="#8a3228" />
<polygon points="527.3,671.31 528.9,671.49 528.9,672.09 527.3,671.91" fill="#bdbdbd" />
<polygon points="525.5,675.24 526.7,675.36 526.7,676.65 525.5,676.55" fill="#8a3228" />
<polygon points="527.3,677.43 528.9,677.57 528.9,678.16 527.3,678.04" fill="#bdbdbd" />
<polygon points="525.5,681.36 526.7,681.44 526.7,682.74 525.5,682.66" fill="#8a3228" />
<polygon points="527.3,683.55 528.9,683.65 528.9,684.24 527.3,684.16" fill="#bdbdbd" />
<polygon points="528.97,663.01 530.17,663.19 530.17,664.48 528.97,664.32" fill="#8a3228" />
<polygon points="530.77,665.19 532.37,665.41 532.37,666.01 530.77,665.79" fill="#bdbdbd" />
<polygon points="528.97,669.13 530.17,669.27 530.17,670.57 528.97,670.43" fill="#8a3228" />
<polygon points="530.77,671.31 532.37,671.49 532.37,672.09 530.77,671.91" fill="#bdbdbd" />
<polygon points="528.97,675.24 530.17,675.36 530.17,676.65 528.97,676.55" fill="#8a3228" />
<polygon points="530.77,677.43 532.37,677.57 532.37,678.17 530.77,678.03" fill="#bdbdbd" />
<polygon points="528.97,681.36 530.17,681.44 530.17,682.74 528.97,682.66" fill="#8a3228" />
<polygon points="530.77,683.55 532.37,683.65 532.37,684.24 530.77,684.16" fill="#bdbdbd" />
<polygon points="532.43,663.01 533.63,663.19 533.63,664.49 532.43,664.31" fill="#8a3228" />
<polygon points="534.23,665.19 535.83,665.41 535.83,666.01 534.23,665.79" fill="#bdbdbd" />
<polygon points="532.43,669.13 533.63,669.27 533.63,670.57 532.43,670.43" fill="#8a3228" />
<polygon points="534.23,671.31 535.83,671.49 535.83,672.09 534.23,671.91" fill="#bdbdbd" />
<polygon points="532.43,675.24 533.63,675.36 533.63,676.65 532.43,676.55" fill="#8a3228" />
<polygon points="534.23,677.43 535.83,677.57 535.83,678.17 534.23,678.03" fill="#bdbdbd" />
<polygon points="532.43,681.36 533.63,681.44 533.63,682.74 532.43,682.66" fill="#8a3228" />
<polygon points="534.23,683.55 535.83,683.65 535.83,684.24 534.23,684.16" fill="#bdbdbd" />
<polygon points="547.5,666.81 548.7,666.99 548.7,668.28 547.5,668.12" fill="#8a3228" />
<polygon points="549.3,668.99 550.9,669.21 550.9,669.8 549.3,669.6" fill="#bdbdbd" />
<polygon points="547.5,672.1 548.7,672.25 548.7,673.54 547.5,673.41" fill="#8a3228" />
<polygon points="549.3,674.29 550.9,674.46 550.9,675.06 549.3,674.89" fill="#bdbdbd" />
<polygon points="547.5,677.39 548.7,677.51 548.7,678.8 547.5,678.7" fill="#8a3228" />
<polygon points="549.3,679.58 550.9,679.72 550.9,680.31 549.3,680.19" fill="#bdbdbd" />
<polygon points="547.5,682.69 548.7,682.76 548.7,684.06 547.5,683.99" fill="#8a3228" />
<polygon points="549.3,684.88 550.9,684.97 550.9,685.57 549.3,685.48" fill="#bdbdbd" />
<polygon points="551.35,666.81 552.55,666.99 552.55,668.28 551.35,668.12" fill="#8a3228" />
<polygon points="553.15,668.99 554.75,669.21 554.75,669.81 553.15,669.59" fill="#bdbdbd" />
<polygon points="551.35,672.1 552.55,672.25 552.55,673.54 551.35,673.41" fill="#8a3228" />
<polygon points="553.15,674.29 554.75,674.46 554.75,675.06 553.15,674.89" fill="#bdbdbd" />
<polygon points="551.35,677.39 552.55,677.51 552.55,678.8 551.35,678.7" fill="#8a3228" />
<polygon points="553.15,679.58 554.75,679.72 554.75,680.31 553.15,680.19" fill="#bdbdbd" />
<polygon points="551.35,682.68 552.55,682.77 552.55,684.06 551.35,683.99" fill="#8a3228" />
<polygon points="553.15,684.88 554.75,684.97 554.75,685.57 553.15,685.48" fill="#bdbdbd" />
<polygon points="497.5,677.65 512.5,678.75 512.5,679.33 497.5,678.27" fill="#a9a9a4" /><polygon points="505.42,679.24 510.12,679.56 510.12,684.52 505.42,684.28" fill="#1c1c1c" /><circle cx="503.92" cy="682" r="1.3" fill="#2a2a2a"/><polygon points="510.12,681.48 510.92,681.52 510.92,682.52 510.12,682.48" fill="#b03a30" />
<polygon points="497.5,686.92 512.5,687.48 512.5,688.06 497.5,687.54" fill="#a9a9a4" /><polygon points="505.42,688.32 510.12,688.48 510.12,693.43 505.42,693.37" fill="#1c1c1c" /><circle cx="503.92" cy="691" r="1.3" fill="#2a2a2a"/><polygon points="510.12,690.49 510.92,690.51 510.92,691.51 510.12,691.49" fill="#b03a30" />
<polygon points="497.5,697.22 512.5,697.18 512.5,697.77 497.5,697.83" fill="#a9a9a4" /><polygon points="505.42,698.42 510.12,698.38 510.12,703.34 505.42,703.46" fill="#1c1c1c" /><circle cx="503.92" cy="701" r="1.3" fill="#2a2a2a"/><polygon points="510.12,700.51 510.92,700.49 510.92,701.49 510.12,701.51" fill="#b03a30" />
<polygon points="497.5,729.14 512.5,727.26 512.5,727.85 497.5,729.75" fill="#a9a9a4" /><polygon points="505.42,729.71 510.12,729.09 510.12,734.04 505.42,734.76" fill="#1c1c1c" /><circle cx="503.92" cy="732" r="1.3" fill="#2a2a2a"/><polygon points="510.12,731.56 510.92,731.44 510.92,732.44 510.12,732.56" fill="#b03a30" />
<polygon points="523.5,687.75 536.5,688.25 536.5,688.83 523.5,688.37" fill="#a9a9a4" /><polygon points="530.18,689.12 534.88,689.28 534.88,694.23 530.18,694.17" fill="#1c1c1c" /><circle cx="528.68" cy="691.8" r="1.3" fill="#2a2a2a"/><polygon points="534.88,691.29 535.68,691.31 535.68,692.31 534.88,692.29" fill="#b03a30" />
<polygon points="523.5,697.22 536.5,697.18 536.5,697.77 523.5,697.83" fill="#a9a9a4" /><polygon points="530.18,698.42 534.88,698.38 534.88,703.33 530.18,703.47" fill="#1c1c1c" /><circle cx="528.68" cy="701" r="1.3" fill="#2a2a2a"/><polygon points="534.88,700.51 535.68,700.49 535.68,701.49 534.88,701.51" fill="#b03a30" />
<polygon points="523.5,706.47 536.5,705.93 536.5,706.51 523.5,707.09" fill="#a9a9a4" /><polygon points="530.18,707.51 534.88,707.29 534.88,712.24 530.18,712.56" fill="#1c1c1c" /><circle cx="528.68" cy="710" r="1.3" fill="#2a2a2a"/><polygon points="534.88,709.52 535.68,709.48 535.68,710.48 534.88,710.52" fill="#b03a30" />
<polygon points="523.5,715.73 536.5,714.67 536.5,715.25 523.5,716.35" fill="#a9a9a4" /><polygon points="530.18,716.61 534.88,716.19 534.88,721.14 530.18,721.66" fill="#1c1c1c" /><circle cx="528.68" cy="719" r="1.3" fill="#2a2a2a"/><polygon points="534.88,718.54 535.68,718.46 535.68,719.46 534.88,719.54" fill="#b03a30" />
<polygon points="523.5,724.99 536.5,723.41 536.5,724 523.5,725.6" fill="#a9a9a4" /><polygon points="530.18,725.7 534.88,725.1 534.88,730.05 530.18,730.75" fill="#1c1c1c" /><circle cx="528.68" cy="728" r="1.3" fill="#2a2a2a"/><polygon points="534.88,727.56 535.68,727.44 535.68,728.44 534.88,728.56" fill="#b03a30" />
<polygon points="523.5,734.24 536.5,732.16 536.5,732.74 523.5,734.86" fill="#a9a9a4" /><polygon points="530.18,734.79 534.88,734.01 534.88,738.95 530.18,739.85" fill="#1c1c1c" /><circle cx="528.68" cy="737" r="1.3" fill="#2a2a2a"/><polygon points="534.88,736.57 535.68,736.43 535.68,737.43 534.88,737.57" fill="#b03a30" />
<polygon points="545,689.01 555.8,689.39 555.8,689.98 545,689.62" fill="#a9a9a4" /><polygon points="550.32,690.33 555.02,690.47 555.02,695.41 550.32,695.39" fill="#1c1c1c" /><circle cx="548.82" cy="693" r="1.3" fill="#2a2a2a"/><polygon points="555.02,692.49 555.82,692.51 555.82,693.51 555.02,693.49" fill="#b03a30" />
<polygon points="545,696.19 555.8,696.21 555.8,696.8 545,696.8" fill="#a9a9a4" /><polygon points="550.32,697.41 555.02,697.39 555.02,702.33 550.32,702.47" fill="#1c1c1c" /><circle cx="548.82" cy="700" r="1.3" fill="#2a2a2a"/><polygon points="555.02,699.51 555.82,699.49 555.82,700.49 555.02,700.51" fill="#b03a30" />
<polygon points="545,704.91 555.8,704.49 555.8,705.07 545,705.53" fill="#a9a9a4" /><polygon points="550.32,706.01 555.02,705.79 555.02,710.74 550.32,711.06" fill="#1c1c1c" /><circle cx="548.82" cy="708.5" r="1.3" fill="#2a2a2a"/><polygon points="555.02,708.02 555.82,707.98 555.82,708.98 555.02,709.02" fill="#b03a30" />
<polygon points="497.5,737.17 512.5,734.83 512.5,747.45 497.5,750.55" fill="#1f1f1f" />
<polygon points="499,740.17 501,739.83 501,741.82 499,742.18" fill="#b83a2a" /><polygon points="506,742.18 508,741.82 508,743.81 506,744.19" fill="#b83a2a" />
<polygon points="545.5,713.42 556,712.58 556,720.38 545.5,721.62" fill="#1f1f1f" />
<polygon points="497,709.91 513,709.09 513,709.77 497,710.63" fill="#bdbdb8" />
<polygon points="480.2,755.54 494.7,752.46 494.7,757.81 480.2,761.19" fill="#141414" />
<polygon points="498.5,751.77 511.4,749.03 511.4,753.7 498.5,756.7" fill="#141414" />
<polygon points="524.8,745.06 535,742.94 535,747.05 524.8,749.35" fill="#141414" />
<polygon points="546.3,740.9 554.9,739.1 554.9,742.43 546.3,744.37" fill="#141414" />
<polygon points="568.8,736.03 575.8,734.57 575.8,737.22 568.8,738.78" fill="#141414" />
<polygon points="481.8,694.2 492.6,693.2 492.6,716.2 481.8,717.4" fill="#1a1a1a" />
<polygon points="482.8,695.5 491.6,694.7 491.6,715 482.8,716" fill="#e9e7e3" />
<polygon points="484,702 490,699.5 490,700.5 484,703" fill="#d04030" />
<rect x="484.5" y="709" width="1.5" height="1.5" fill="#6a9a60" />
<polygon points="481.3,658.65 483.5,658.95 483.5,663.53 481.3,663.27" fill="#f5f5f5" stroke="#8a8a8a" stroke-width="0.4"/>
<polygon points="484,658.65 486.2,658.95 486.2,663.53 484,663.27" fill="#f5f5f5" stroke="#8a8a8a" stroke-width="0.4"/>
<polygon points="486.7,658.65 488.9,658.95 488.9,663.54 486.7,663.26" fill="#f5f5f5" stroke="#8a8a8a" stroke-width="0.4"/>
<polygon points="489.4,658.64 491.6,658.96 491.6,663.54 489.4,663.26" fill="#f5f5f5" stroke="#8a8a8a" stroke-width="0.4"/>
<rect x="482" y="677" width="1.3" height="1.3" fill="#555" /><rect x="486" y="676.5" width="1.3" height="1.3" fill="#c03030" /><rect x="482" y="680.6" width="1.3" height="1.3" fill="#555" /><rect x="486" y="680.2" width="1.3" height="1.3" fill="#c03030" />
<polygon points="571,674.4 574.5,673 576.3,674.4 574.5,675.8" fill="#222" />
<rect x="567.5" y="684" width="5" height="5.7" fill="#f4f4f4" stroke="#bbb" stroke-width="0.4"/>
<rect x="567" y="691.5" width="2" height="1.5" fill="#222" /><rect x="570.5" y="691.5" width="2" height="1.5" fill="#222" />
<rect x="565.5" y="696" width="10.5" height="1.7" fill="#d88078" />
<rect x="566" y="700" width="9" height="0.7" fill="#999" /><rect x="566" y="703" width="9" height="0.7" fill="#999" />
</g>
<g transform="translate(638.1,646.8)">
<rect x="0" y="0" width="70.7" height="100.3" fill="#c3c4c6" />
<rect x="0" y="0" width="70.7" height="7.4" fill="#cfd0d2" />
<rect x="0" y="0" width="1.5" height="100.3" fill="#a9aaac" />
<rect x="0" y="95.4" width="70.7" height="4.9" fill="#e4ded0" />
<rect x="5.5" y="7.4" width="57.8" height="88" fill="#b3b4b6" />
<rect x="5.5" y="7.4" width="57.8" height="2.2" fill="#96979a" />
<g fill="none" stroke-width="1.2">
<path d="M14,17 C18,9 26,9 34,12 S52,12 60,15" stroke="#d8d8d8"/>
<path d="M14,16.76 C18,10.2 26,10.2 34,12.72 S52,12.36 60,15" stroke="#e2c000"/>
<path d="M14,16.56 C18,11.2 26,11.2 34,13.32 S52,12.66 60,15" stroke="#2a9a40"/>
<path d="M14,16.36 C18,12.2 26,12.2 34,13.92 S52,12.96 60,15" stroke="#d02a2a"/>
<path d="M14,16.16 C18,13.2 26,13.2 34,14.52 S52,13.26 60,15" stroke="#e2c000"/>
</g>
<rect x="7.4" y="16" width="53.5" height="13" fill="#e6e7e9" />
<rect x="8" y="16.5" width="0.6" height="12" fill="#c8c9cb" />
<rect x="12.4" y="16.5" width="0.6" height="12" fill="#c8c9cb" />
<rect x="16.8" y="16.5" width="0.6" height="12" fill="#c8c9cb" />
<rect x="21.2" y="16.5" width="0.6" height="12" fill="#c8c9cb" />
<rect x="25.6" y="16.5" width="0.6" height="12" fill="#c8c9cb" />
<rect x="30" y="16.5" width="0.6" height="12" fill="#c8c9cb" />
<rect x="34.4" y="16.5" width="0.6" height="12" fill="#c8c9cb" />
<rect x="38.8" y="16.5" width="0.6" height="12" fill="#c8c9cb" />
<rect x="43.2" y="16.5" width="0.6" height="12" fill="#c8c9cb" />
<rect x="47.6" y="16.5" width="0.6" height="12" fill="#c8c9cb" />
<rect x="52" y="16.5" width="0.6" height="12" fill="#c8c9cb" />
<rect x="56.4" y="16.5" width="0.6" height="12" fill="#c8c9cb" />
<rect x="7.4" y="21" width="40" height="1.3" fill="#3a6ec0" />
<rect x="27" y="21" width="6" height="1.3" fill="#e8e8e8" />
<rect x="9" y="25.8" width="2.2" height="2.4" fill="#c03030" />
<rect x="12.6" y="25.8" width="2.2" height="2.4" fill="#2a60c0" />
<rect x="16.2" y="25.8" width="2.2" height="2.4" fill="#e2c000" />
<rect x="19.8" y="25.8" width="2.2" height="2.4" fill="#2a9a40" />
<rect x="23.4" y="25.8" width="2.2" height="2.4" fill="#c03030" />
<rect x="27" y="25.8" width="2.2" height="2.4" fill="#2a60c0" />
<rect x="30.6" y="25.8" width="2.2" height="2.4" fill="#e2c000" />
<rect x="34.2" y="25.8" width="2.2" height="2.4" fill="#2a9a40" />
<rect x="37.8" y="25.8" width="2.2" height="2.4" fill="#c03030" />
<rect x="41.4" y="25.8" width="2.2" height="2.4" fill="#2a60c0" />
<rect x="48" y="18" width="12" height="10" fill="#d4d5d7" />
<g fill="none" stroke-width="1.3">
<path d="M9,29 C14,34 28,35 40,30" stroke="#e2c000"/>
<path d="M12,29 C18,33 30,33 42,29" stroke="#d02a2a"/>
<path d="M15,29 C20,32 30,31 38,29" stroke="#2a9a40"/>
</g>
<g fill="none" stroke-width="1.4">
<path d="M11,31 C9,40 10,50 9,63" stroke="#e2c000"/>
<path d="M13,31 C11,40 12,50 11,63" stroke="#2a9a40"/>
<path d="M15,31 C13,40 14,50 13,63" stroke="#d02a2a"/>
<path d="M17,31 C15,40 16,50 15,63" stroke="#2a60c0"/>
<path d="M19,31 C17,40 18,50 17,63" stroke="#e2c000"/>
<path d="M21,31 C19,40 20,50 19,63" stroke="#d02a2a"/>
<path d="M23,31 C21,40 22,50 21,63" stroke="#2a9a40"/>
<path d="M25,31 C23,40 24,50 23,63" stroke="#e2c000"/>
</g>
<rect x="8" y="38" width="17" height="5" fill="#e8e8e8" />
<rect x="10" y="39" width="2" height="3" fill="#d02a2a" /><rect x="14" y="39" width="2" height="3" fill="#2a60c0" /><rect x="18" y="39" width="2" height="3" fill="#e2c000" />
<rect x="27" y="41" width="6" height="7" fill="#e0e0e0" /><rect x="33" y="42" width="9" height="4" fill="#d8cba8" /><rect x="42" y="43" width="9" height="3" fill="#c9bfa5" /><rect x="51" y="41" width="8" height="8" fill="#e6e6e6" />
<path d="M28,41 C30,36 34,37 34,41" fill="none" stroke="#777" stroke-width="0.8"/>
<path d="M52,41 C56,34 60,34 62,40" fill="none" stroke="#e2c000" stroke-width="0.9"/>
<path d="M53,49 C55,55 58,56 62,55" fill="none" stroke="#666" stroke-width="0.9"/>
<rect x="6.7" y="62.8" width="56.6" height="12.3" fill="#e4e5e7" />
<rect x="7.3" y="63.3" width="0.6" height="11.5" fill="#c8c9cb" />
<rect x="11.35" y="63.3" width="0.6" height="11.5" fill="#c8c9cb" />
<rect x="15.4" y="63.3" width="0.6" height="11.5" fill="#c8c9cb" />
<rect x="19.45" y="63.3" width="0.6" height="11.5" fill="#c8c9cb" />
<rect x="23.5" y="63.3" width="0.6" height="11.5" fill="#c8c9cb" />
<rect x="27.55" y="63.3" width="0.6" height="11.5" fill="#c8c9cb" />
<rect x="31.6" y="63.3" width="0.6" height="11.5" fill="#c8c9cb" />
<rect x="35.65" y="63.3" width="0.6" height="11.5" fill="#c8c9cb" />
<rect x="39.7" y="63.3" width="0.6" height="11.5" fill="#c8c9cb" />
<rect x="43.75" y="63.3" width="0.6" height="11.5" fill="#c8c9cb" />
<rect x="47.8" y="63.3" width="0.6" height="11.5" fill="#c8c9cb" />
<rect x="51.85" y="63.3" width="0.6" height="11.5" fill="#c8c9cb" />
<rect x="55.9" y="63.3" width="0.6" height="11.5" fill="#c8c9cb" />
<rect x="59.95" y="63.3" width="0.6" height="11.5" fill="#c8c9cb" />
<rect x="6.7" y="68.3" width="56.6" height="2.2" fill="#3a6ec0" />
<rect x="6.7" y="73" width="56.6" height="1.2" fill="#d8d8d8" />
<rect x="6.7" y="81.8" width="39.4" height="3.7" fill="#d8d6d0" />
<rect x="8" y="82.5" width="4" height="2" fill="#2a60c0" /><rect x="20" y="82.5" width="3" height="2" fill="#888" /><rect x="32" y="82.5" width="3" height="2" fill="#a08050" />
<path d="M8,86 C10,90 14,90 16,88" fill="none" stroke="#2a60c0" stroke-width="1.2"/>
<g fill="none" stroke-width="1.4">
<path d="M45,92 C46,85 52,82 62,84" stroke="#e2c000"/><path d="M46,92 C48,87 53,85 62,86" stroke="#7a3aa0"/><path d="M47,93 C50,89 55,88 62,89" stroke="#2a9a40"/><path d="M49,93 C52,91 56,90 62,91" stroke="#2a60c0"/>
</g>
<rect x="44" y="89" width="8" height="4" fill="#c02a2a" />
<rect x="6" y="92" width="58" height="3.4" fill="#8a8a8c" />
<ellipse cx="13" cy="93.8" rx="4" ry="1.6" fill="#2a2a2a"/>
<ellipse cx="25" cy="93.8" rx="4" ry="1.6" fill="#2a2a2a"/>
<ellipse cx="37" cy="93.8" rx="4" ry="1.6" fill="#2a2a2a"/>
<polygon points="63.9,8.7 93.5,3.7 93.5,100.3 63.9,91.7" fill="#8c8d90" />
<polygon points="65.5,9.5 92.6,5 92.6,99 65.5,90.6" fill="#a7a8aa" />
<polygon points="68.5,15.5 92.2,11.6 92.2,19.6 68.5,22.5" fill="#e0e1e3" />
<polygon points="68.5,65 92.2,65.8 92.2,75.5 68.5,73" fill="#e0e1e3" />
<rect x="71.5" y="16.5" width="1.8" height="5.3" fill="#1e1e1e" /><rect x="71.5" y="66" width="1.8" height="6" fill="#1e1e1e" />
<rect x="67" y="29" width="9.8" height="4.5" fill="#1e1e1e" />
<rect x="68" y="28" width="1.5" height="2" fill="#c03030" /><rect x="71" y="28" width="1.5" height="2" fill="#c03030" /><rect x="74" y="28" width="1.5" height="2" fill="#c03030" />
<rect x="70.1" y="37.6" width="12.9" height="11" fill="#ececed" />
<rect x="69" y="36" width="3.5" height="10" fill="#4a9a50" />
<path d="M66,40 C63,45 64,52 70,56" fill="none" stroke="#555" stroke-width="0.8"/>
<rect x="90.5" y="43.5" width="1.5" height="4.5" fill="#5a5a5a" />
<rect x="94.9" y="3.4" width="43.9" height="97.6" fill="#2e2e2e" />
<rect x="92.8" y="4.6" width="44.6" height="95.3" fill="#b9babc" />
<rect x="92.8" y="4.6" width="44.6" height="1.6" fill="#cfd0d2" />
<rect x="92.8" y="4.2" width="2.6" height="96.5" fill="#e9e3d6" />
<rect x="95.4" y="23.7" width="19.9" height="44.5" fill="#e4e2e1" />
<rect x="97" y="26" width="10" height="0.6" fill="#cdcbca" /><rect x="97" y="29.2" width="11.5" height="0.6" fill="#cdcbca" /><rect x="97" y="32.4" width="13" height="0.6" fill="#cdcbca" /><rect x="97" y="35.6" width="14.5" height="0.6" fill="#cdcbca" /><rect x="97" y="38.8" width="10" height="0.6" fill="#cdcbca" /><rect x="97" y="42" width="11.5" height="0.6" fill="#cdcbca" /><rect x="97" y="45.2" width="13" height="0.6" fill="#cdcbca" /><rect x="97" y="48.4" width="14.5" height="0.6" fill="#cdcbca" /><rect x="97" y="51.6" width="10" height="0.6" fill="#cdcbca" /><rect x="97" y="54.8" width="11.5" height="0.6" fill="#cdcbca" /><rect x="97" y="58" width="13" height="0.6" fill="#cdcbca" /><rect x="97" y="61.2" width="14.5" height="0.6" fill="#cdcbca" />
<rect x="132" y="50" width="2" height="2.5" fill="#eee" /><rect x="131.7" y="53.5" width="2.5" height="2" fill="#f4f4f4" />
<ellipse cx="112" cy="72" rx="12" ry="16" fill="#d9d0cc" opacity="0.3"/>
</g>
<g transform="translate(814.4,653.6)">
<rect x="0" y="0" width="70.7" height="100.3" fill="#c3c4c6" />
<rect x="0" y="0" width="70.7" height="7.4" fill="#cfd0d2" />
<rect x="0" y="0" width="1.5" height="100.3" fill="#a9aaac" />
<rect x="0" y="95.4" width="70.7" height="4.9" fill="#e4ded0" />
<rect x="5.5" y="7.4" width="57.8" height="88" fill="#b3b4b6" />
<rect x="5.5" y="7.4" width="57.8" height="2.2" fill="#96979a" />
<g fill="none" stroke-width="1.2">
<path d="M14,17 C18,9 26,9 34,12 S52,12 60,15" stroke="#d8d8d8"/>
<path d="M14,16.76 C18,10.2 26,10.2 34,12.72 S52,12.36 60,15" stroke="#e2c000"/>
<path d="M14,16.56 C18,11.2 26,11.2 34,13.32 S52,12.66 60,15" stroke="#2a9a40"/>
<path d="M14,16.36 C18,12.2 26,12.2 34,13.92 S52,12.96 60,15" stroke="#d02a2a"/>
<path d="M14,16.16 C18,13.2 26,13.2 34,14.52 S52,13.26 60,15" stroke="#e2c000"/>
</g>
<rect x="7.4" y="16" width="53.5" height="13" fill="#e6e7e9" />
<rect x="8" y="16.5" width="0.6" height="12" fill="#c8c9cb" />
<rect x="12.4" y="16.5" width="0.6" height="12" fill="#c8c9cb" />
<rect x="16.8" y="16.5" width="0.6" height="12" fill="#c8c9cb" />
<rect x="21.2" y="16.5" width="0.6" height="12" fill="#c8c9cb" />
<rect x="25.6" y="16.5" width="0.6" height="12" fill="#c8c9cb" />
<rect x="30" y="16.5" width="0.6" height="12" fill="#c8c9cb" />
<rect x="34.4" y="16.5" width="0.6" height="12" fill="#c8c9cb" />
<rect x="38.8" y="16.5" width="0.6" height="12" fill="#c8c9cb" />
<rect x="43.2" y="16.5" width="0.6" height="12" fill="#c8c9cb" />
<rect x="47.6" y="16.5" width="0.6" height="12" fill="#c8c9cb" />
<rect x="52" y="16.5" width="0.6" height="12" fill="#c8c9cb" />
<rect x="56.4" y="16.5" width="0.6" height="12" fill="#c8c9cb" />
<rect x="7.4" y="21" width="40" height="1.3" fill="#3a6ec0" />
<rect x="27" y="21" width="6" height="1.3" fill="#e8e8e8" />
<rect x="9" y="25.8" width="2.2" height="2.4" fill="#c03030" />
<rect x="12.6" y="25.8" width="2.2" height="2.4" fill="#2a60c0" />
<rect x="16.2" y="25.8" width="2.2" height="2.4" fill="#e2c000" />
<rect x="19.8" y="25.8" width="2.2" height="2.4" fill="#2a9a40" />
<rect x="23.4" y="25.8" width="2.2" height="2.4" fill="#c03030" />
<rect x="27" y="25.8" width="2.2" height="2.4" fill="#2a60c0" />
<rect x="30.6" y="25.8" width="2.2" height="2.4" fill="#e2c000" />
<rect x="34.2" y="25.8" width="2.2" height="2.4" fill="#2a9a40" />
<rect x="37.8" y="25.8" width="2.2" height="2.4" fill="#c03030" />
<rect x="41.4" y="25.8" width="2.2" height="2.4" fill="#2a60c0" />
<rect x="48" y="18" width="12" height="10" fill="#d4d5d7" />
<g fill="none" stroke-width="1.3">
<path d="M9,29 C14,34 28,35 40,30" stroke="#e2c000"/>
<path d="M12,29 C18,33 30,33 42,29" stroke="#d02a2a"/>
<path d="M15,29 C20,32 30,31 38,29" stroke="#2a9a40"/>
</g>
<g fill="none" stroke-width="1.4">
<path d="M11,31 C9,40 10,50 9,63" stroke="#e2c000"/>
<path d="M13,31 C11,40 12,50 11,63" stroke="#2a9a40"/>
<path d="M15,31 C13,40 14,50 13,63" stroke="#d02a2a"/>
<path d="M17,31 C15,40 16,50 15,63" stroke="#2a60c0"/>
<path d="M19,31 C17,40 18,50 17,63" stroke="#e2c000"/>
<path d="M21,31 C19,40 20,50 19,63" stroke="#d02a2a"/>
<path d="M23,31 C21,40 22,50 21,63" stroke="#2a9a40"/>
<path d="M25,31 C23,40 24,50 23,63" stroke="#e2c000"/>
</g>
<rect x="8" y="38" width="17" height="5" fill="#e8e8e8" />
<rect x="10" y="39" width="2" height="3" fill="#d02a2a" /><rect x="14" y="39" width="2" height="3" fill="#2a60c0" /><rect x="18" y="39" width="2" height="3" fill="#e2c000" />
<rect x="27" y="41" width="6" height="7" fill="#e0e0e0" /><rect x="33" y="42" width="9" height="4" fill="#d8cba8" /><rect x="42" y="43" width="9" height="3" fill="#c9bfa5" /><rect x="51" y="41" width="8" height="8" fill="#e6e6e6" />
<path d="M28,41 C30,36 34,37 34,41" fill="none" stroke="#777" stroke-width="0.8"/>
<path d="M52,41 C56,34 60,34 62,40" fill="none" stroke="#e2c000" stroke-width="0.9"/>
<path d="M53,49 C55,55 58,56 62,55" fill="none" stroke="#666" stroke-width="0.9"/>
<rect x="6.7" y="62.8" width="56.6" height="12.3" fill="#e4e5e7" />
<rect x="7.3" y="63.3" width="0.6" height="11.5" fill="#c8c9cb" />
<rect x="11.35" y="63.3" width="0.6" height="11.5" fill="#c8c9cb" />
<rect x="15.4" y="63.3" width="0.6" height="11.5" fill="#c8c9cb" />
<rect x="19.45" y="63.3" width="0.6" height="11.5" fill="#c8c9cb" />
<rect x="23.5" y="63.3" width="0.6" height="11.5" fill="#c8c9cb" />
<rect x="27.55" y="63.3" width="0.6" height="11.5" fill="#c8c9cb" />
<rect x="31.6" y="63.3" width="0.6" height="11.5" fill="#c8c9cb" />
<rect x="35.65" y="63.3" width="0.6" height="11.5" fill="#c8c9cb" />
<rect x="39.7" y="63.3" width="0.6" height="11.5" fill="#c8c9cb" />
<rect x="43.75" y="63.3" width="0.6" height="11.5" fill="#c8c9cb" />
<rect x="47.8" y="63.3" width="0.6" height="11.5" fill="#c8c9cb" />
<rect x="51.85" y="63.3" width="0.6" height="11.5" fill="#c8c9cb" />
<rect x="55.9" y="63.3" width="0.6" height="11.5" fill="#c8c9cb" />
<rect x="59.95" y="63.3" width="0.6" height="11.5" fill="#c8c9cb" />
<rect x="6.7" y="68.3" width="56.6" height="2.2" fill="#3a6ec0" />
<rect x="6.7" y="73" width="56.6" height="1.2" fill="#d8d8d8" />
<rect x="6.7" y="81.8" width="39.4" height="3.7" fill="#d8d6d0" />
<rect x="8" y="82.5" width="4" height="2" fill="#2a60c0" /><rect x="20" y="82.5" width="3" height="2" fill="#888" /><rect x="32" y="82.5" width="3" height="2" fill="#a08050" />
<path d="M8,86 C10,90 14,90 16,88" fill="none" stroke="#2a60c0" stroke-width="1.2"/>
<g fill="none" stroke-width="1.4">
<path d="M45,92 C46,85 52,82 62,84" stroke="#e2c000"/><path d="M46,92 C48,87 53,85 62,86" stroke="#7a3aa0"/><path d="M47,93 C50,89 55,88 62,89" stroke="#2a9a40"/><path d="M49,93 C52,91 56,90 62,91" stroke="#2a60c0"/>
</g>
<rect x="44" y="89" width="8" height="4" fill="#c02a2a" />
<rect x="6" y="92" width="58" height="3.4" fill="#8a8a8c" />
<ellipse cx="13" cy="93.8" rx="4" ry="1.6" fill="#2a2a2a"/>
<ellipse cx="25" cy="93.8" rx="4" ry="1.6" fill="#2a2a2a"/>
<ellipse cx="37" cy="93.8" rx="4" ry="1.6" fill="#2a2a2a"/>
<polygon points="63.9,8.7 93.5,3.7 93.5,100.3 63.9,91.7" fill="#8c8d90" />
<polygon points="65.5,9.5 92.6,5 92.6,99 65.5,90.6" fill="#a7a8aa" />
<polygon points="68.5,15.5 92.2,11.6 92.2,19.6 68.5,22.5" fill="#e0e1e3" />
<polygon points="68.5,65 92.2,65.8 92.2,75.5 68.5,73" fill="#e0e1e3" />
<rect x="71.5" y="16.5" width="1.8" height="5.3" fill="#1e1e1e" /><rect x="71.5" y="66" width="1.8" height="6" fill="#1e1e1e" />
<rect x="67" y="29" width="9.8" height="4.5" fill="#1e1e1e" />
<rect x="68" y="28" width="1.5" height="2" fill="#c03030" /><rect x="71" y="28" width="1.5" height="2" fill="#c03030" /><rect x="74" y="28" width="1.5" height="2" fill="#c03030" />
<rect x="70.1" y="37.6" width="12.9" height="11" fill="#ececed" />
<rect x="69" y="36" width="3.5" height="10" fill="#4a9a50" />
<path d="M66,40 C63,45 64,52 70,56" fill="none" stroke="#555" stroke-width="0.8"/>
<rect x="90.5" y="43.5" width="1.5" height="4.5" fill="#5a5a5a" />
<rect x="94.9" y="3.4" width="43.9" height="97.6" fill="#2e2e2e" />
<rect x="92.8" y="4.6" width="44.6" height="95.3" fill="#b9babc" />
<rect x="92.8" y="4.6" width="44.6" height="1.6" fill="#cfd0d2" />
<rect x="92.8" y="4.2" width="2.6" height="96.5" fill="#e9e3d6" />
<rect x="95.4" y="23.7" width="19.9" height="44.5" fill="#e4e2e1" />
<rect x="97" y="26" width="10" height="0.6" fill="#cdcbca" /><rect x="97" y="29.2" width="11.5" height="0.6" fill="#cdcbca" /><rect x="97" y="32.4" width="13" height="0.6" fill="#cdcbca" /><rect x="97" y="35.6" width="14.5" height="0.6" fill="#cdcbca" /><rect x="97" y="38.8" width="10" height="0.6" fill="#cdcbca" /><rect x="97" y="42" width="11.5" height="0.6" fill="#cdcbca" /><rect x="97" y="45.2" width="13" height="0.6" fill="#cdcbca" /><rect x="97" y="48.4" width="14.5" height="0.6" fill="#cdcbca" /><rect x="97" y="51.6" width="10" height="0.6" fill="#cdcbca" /><rect x="97" y="54.8" width="11.5" height="0.6" fill="#cdcbca" /><rect x="97" y="58" width="13" height="0.6" fill="#cdcbca" /><rect x="97" y="61.2" width="14.5" height="0.6" fill="#cdcbca" />
<rect x="132" y="50" width="2" height="2.5" fill="#eee" /><rect x="131.7" y="53.5" width="2.5" height="2" fill="#f4f4f4" />
<ellipse cx="112" cy="72" rx="12" ry="16" fill="#d9d0cc" opacity="0.3"/>
</g>
<text transform="translate(77.32,802.88) scale(0.9824,0.9560)" font-size="25" fill="#0a6abf" stroke="#0a6abf" stroke-width="0.25">高压柜</text>
<text transform="translate(253.79,803.4) scale(1.0130,0.9667)" font-size="25" fill="#0a6abf" stroke="#0a6abf" stroke-width="0.25">高压变压器</text>
<text transform="translate(446.9,802.32) scale(0.9960,0.9200)" font-size="25" fill="#0a6abf" stroke="#0a6abf" stroke-width="0.25">低压配电柜</text>
<text transform="translate(677.3,802.22) scale(1.0000,0.9200)" font-size="25" fill="#0a6abf" stroke="#0a6abf" stroke-width="0.25">配电箱</text>
<text transform="translate(842.2,802.22) scale(1.0041,0.9200)" font-size="25" fill="#0a6abf" stroke="#0a6abf" stroke-width="0.25">配电箱</text></svg>
</body></html>
